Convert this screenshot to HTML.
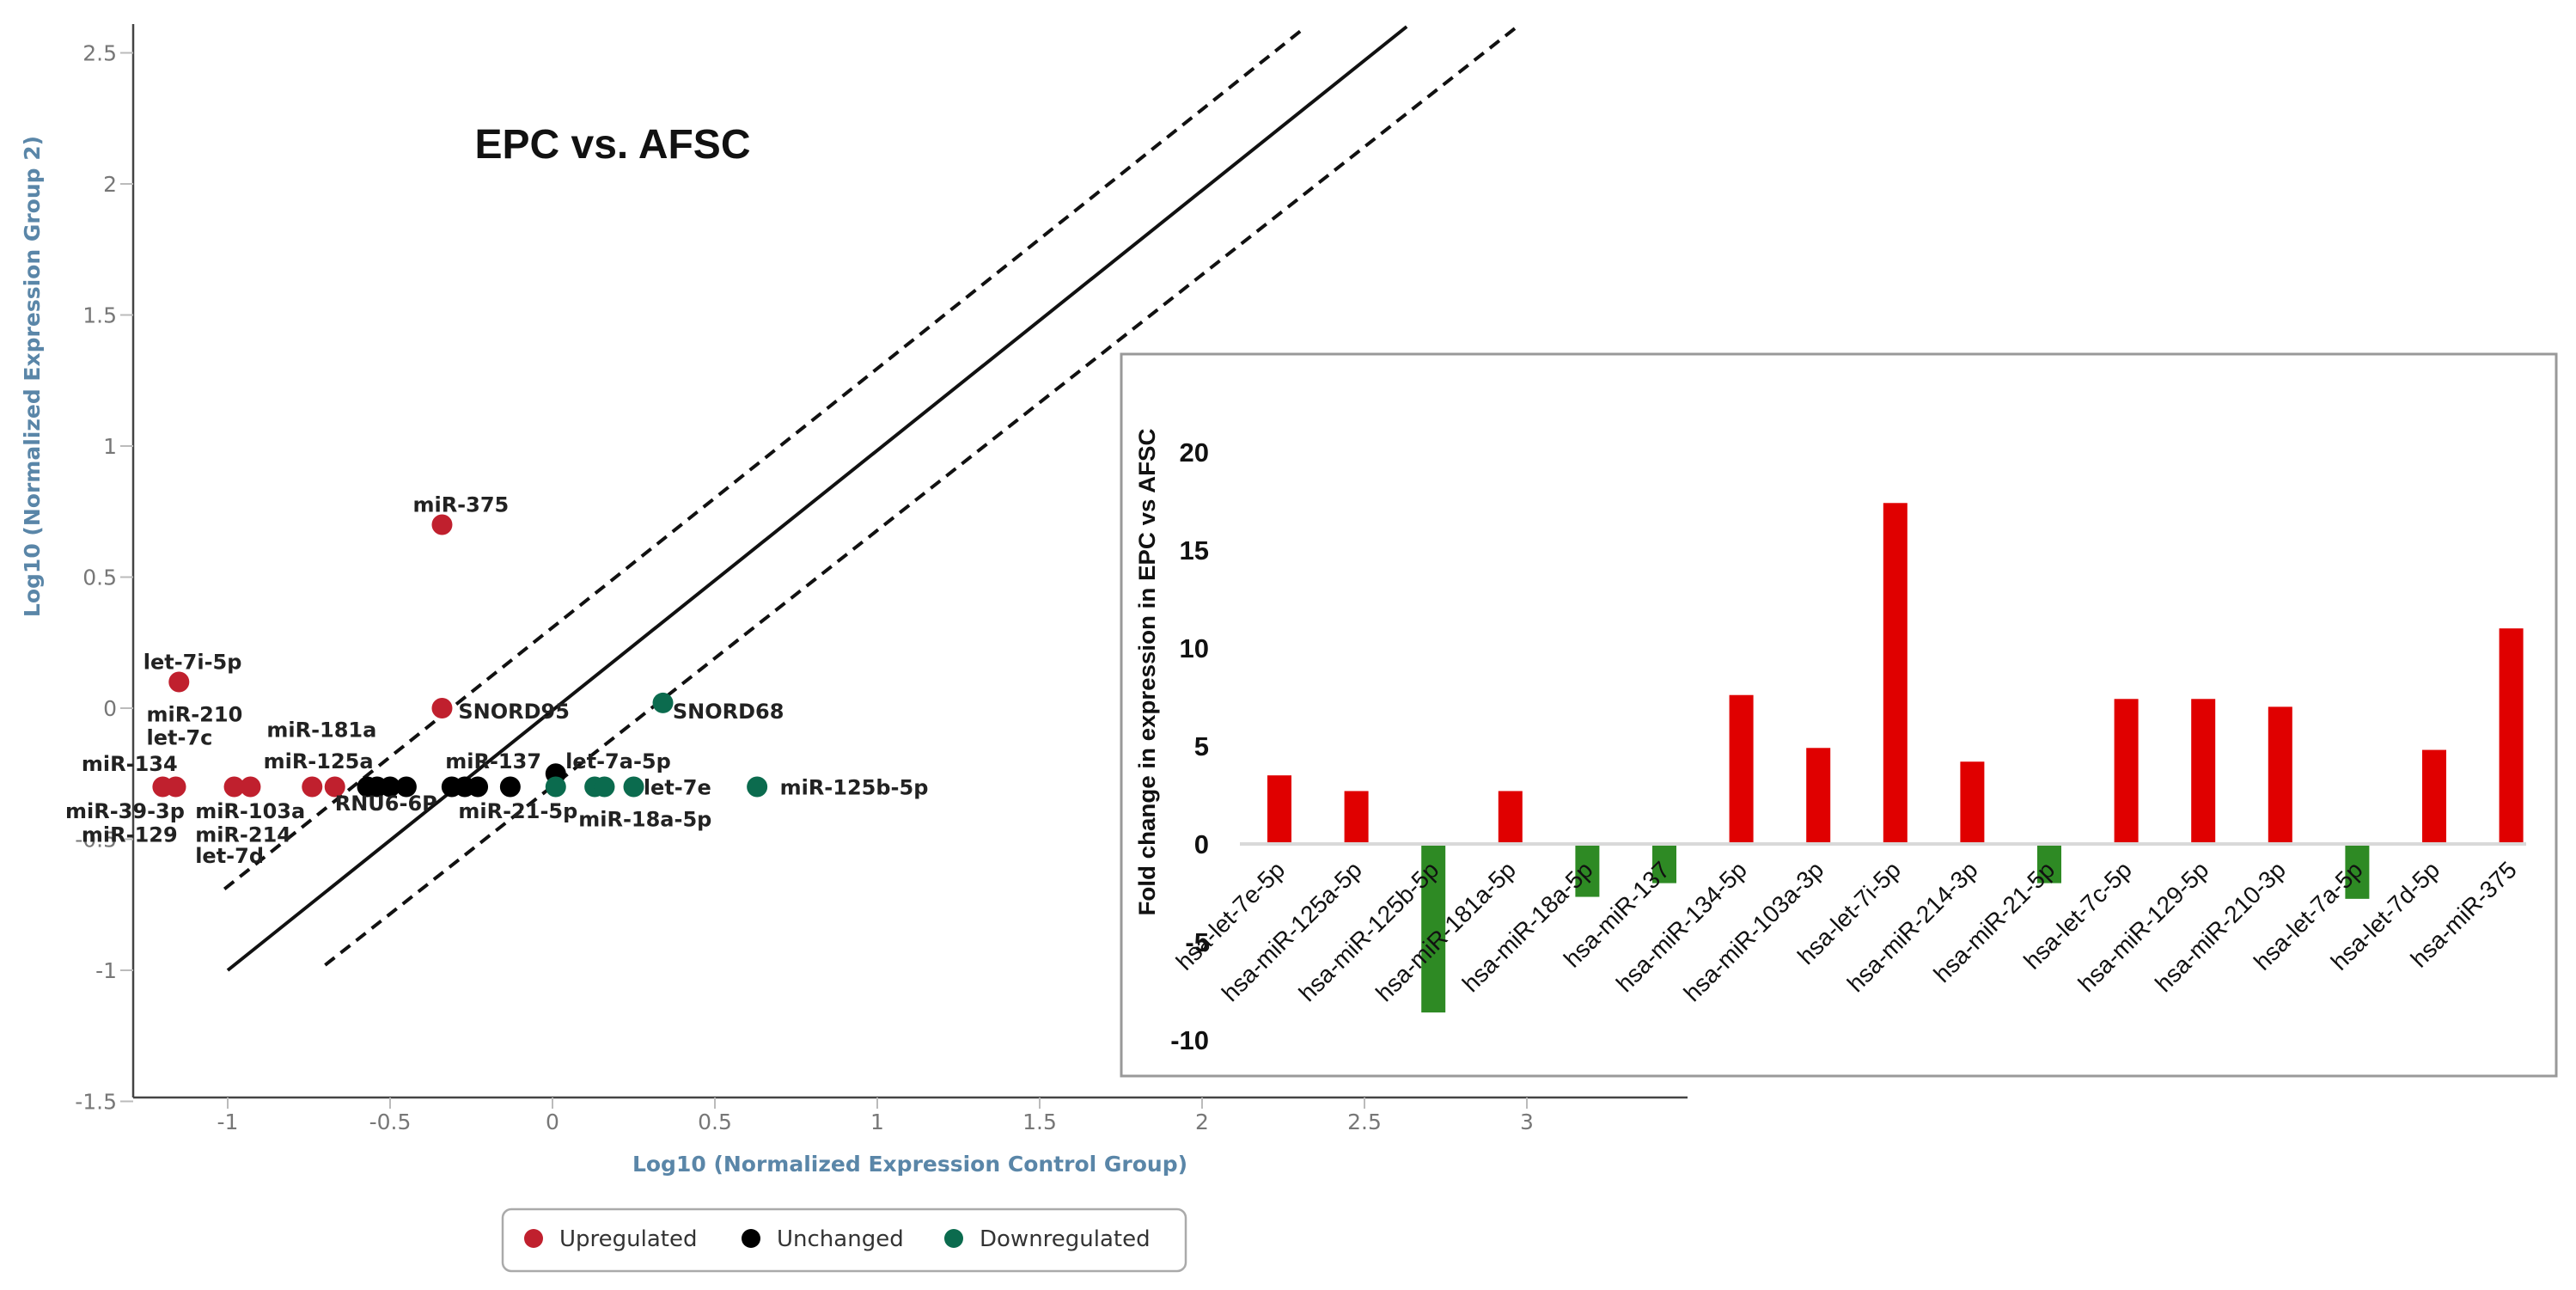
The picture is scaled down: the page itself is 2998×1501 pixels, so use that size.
<!DOCTYPE html>
<html><head><meta charset="utf-8"><style>
html,body{margin:0;padding:0;background:#fff;}
svg{display:block;}
text{font-family:"DejaVu Sans","Liberation Sans",sans-serif;}
</style></head><body>
<svg id="chart" width="2998" height="1501" viewBox="0 0 2998 1501" xmlns="http://www.w3.org/2000/svg">
<g id="scatter"></g>
<g id="inset"></g>
</svg>
<script>
// ---------- Scatter data ----------
const xTicks = [-1, -0.5, 0, 0.5, 1, 1.5, 2, 2.5, 3];
const xTickLabels = ["-1", "-0.5", "0", "0.5", "1", "1.5", "2", "2.5", "3"];
const yTicks = [-1.5, -1, -0.5, 0, 0.5, 1, 1.5, 2, 2.5];
const yTickLabels = ["-1.5", "-1", "-0.5", "0", "0.5", "1", "1.5", "2", "2.5"];
const ptX = [-1.20, -1.16, -0.98, -0.93, -0.74, -0.67, -1.15, -0.34, -0.34,
             -0.57, -0.54, -0.50, -0.45, -0.31, -0.27, -0.23, -0.13, 0.01,
             0.01, 0.13, 0.16, 0.25, 0.63, 0.34];
const ptY = [-0.3, -0.3, -0.3, -0.3, -0.3, -0.3, 0.10, 0.70, 0.0,
             -0.3, -0.3, -0.3, -0.3, -0.3, -0.3, -0.3, -0.3, -0.25,
             -0.3, -0.3, -0.3, -0.3, -0.3, 0.02];
const ptGroup = ["up","up","up","up","up","up","up","up","up",
                 "same","same","same","same","same","same","same","same","same",
                 "down","down","down","down","down","down"];
const labelText = ["let-7i-5p","miR-210","let-7c","miR-181a","miR-125a","miR-134","miR-137","let-7a-5p",
  "SNORD95","SNORD68","let-7e","miR-125b-5p","miR-39-3p","miR-129","miR-103a","miR-214","let-7d",
  "RNU6-6P","miR-21-5p","miR-18a-5p","miR-375"];
const labelX = [-1.26, -1.25, -1.25, -0.88, -0.89, -1.45, -0.33, 0.04, -0.29, 0.37, 0.28, 0.70,
  -1.50, -1.45, -1.10, -1.10, -1.10, -0.67, -0.29, 0.08, -0.43];
const labelY = [0.15, -0.05, -0.14, -0.11, -0.23, -0.24, -0.23, -0.23, -0.04, -0.04, -0.33, -0.33,
  -0.42, -0.51, -0.42, -0.51, -0.59, -0.39, -0.42, -0.45, 0.75];
// reference lines in data units [x1,y1,x2,y2]
const lineSolid = [-1, -1, 2.63, 2.6];
const lineUpper = [-1.01, -0.69, 2.32, 2.6];
const lineLower = [-0.70, -0.98, 2.97, 2.6];

// ---------- Inset bar data ----------
const barCats = ["hsa-let-7e-5p","hsa-miR-125a-5p","hsa-miR-125b-5p","hsa-miR-181a-5p","hsa-miR-18a-5p",
  "hsa-miR-137","hsa-miR-134-5p","hsa-miR-103a-3p","hsa-let-7i-5p","hsa-miR-214-3p","hsa-miR-21-5p",
  "hsa-let-7c-5p","hsa-miR-129-5p","hsa-miR-210-3p","hsa-let-7a-5p","hsa-let-7d-5p","hsa-miR-375"];
const barVals = [3.5, 2.7, -8.6, 2.7, -2.7, -2.0, 7.6, 4.9, 17.4, 4.2, -2.0, 7.4, 7.4, 7.0, -2.8, 4.8, 11.0];
const barTicks = [-10, -5, 0, 5, 10, 15, 20];
const barTickLabels = ["-10", "-5", "0", "5", "10", "15", "20"];

const NS = "http://www.w3.org/2000/svg";
function mk(parent, tag, attrs, txt) {
  const e = document.createElementNS(NS, tag);
  for (const k in attrs) e.setAttribute(k, attrs[k]);
  if (txt !== undefined) e.textContent = txt;
  parent.appendChild(e);
  return e;
}
// axis functions
const sx = v => 643 + v * 378;
const sy = v => 824 - v * 305;
const bx = i => 1489 + i * 89.6;
const by = v => 982 - v * 22.8;

const S = document.getElementById('scatter');
let ax = mk(S, 'line', {x1:155, y1:28, x2:155, y2:1277, stroke:'#444', 'stroke-width':2.5});


ax = mk(S, 'line', {x1:155, y1:1277, x2:1964, y2:1277, stroke:'#444', 'stroke-width':2.5});


yTicks.forEach((v, i) => {
  mk(S, 'line', {x1:140, y1:sy(v), x2:155, y2:sy(v), stroke:'#bbb', 'stroke-width':2});
  const t = mk(S, 'text', {x:136, y:sy(v)+9, 'text-anchor':'end', 'font-size':25, fill:'#777'}, yTickLabels[i]);
  
  
});
xTicks.forEach((v, i) => {
  mk(S, 'line', {x1:sx(v), y1:1277, x2:sx(v), y2:1290, stroke:'#bbb', 'stroke-width':2});
  const t = mk(S, 'text', {x:sx(v), y:1314, 'text-anchor':'middle', 'font-size':25, fill:'#777'}, xTickLabels[i]);
  
  
});
let tt = mk(S, 'text', {x:1059, y:1363, 'text-anchor':'middle', 'font-size':25, 'font-weight':'bold', fill:'#5a86a8'}, 'Log10 (Normalized Expression Control Group)');


tt = mk(S, 'text', {x:0, y:0, 'text-anchor':'middle', 'font-size':25, 'font-weight':'bold', fill:'#5a86a8', transform:'translate(46,438) rotate(-90)'}, 'Log10 (Normalized Expression Group 2)');


tt = mk(S, 'text', {x:713, y:184, 'text-anchor':'middle', 'font-size':48, 'font-weight':'bold', fill:'#111', style:'font-family:"Liberation Sans",sans-serif'}, 'EPC vs. AFSC');


[[lineSolid, null, 'identity-line'], [lineUpper, '14,9', 'upper-threshold-line'], [lineLower, '14,9', 'lower-threshold-line']].forEach(d => {
  const L = d[0];
  const a = {x1:sx(L[0]), y1:sy(L[1]), x2:sx(L[2]), y2:sy(L[3]), stroke:'#111', 'stroke-width':4};
  if (d[1]) a['stroke-dasharray'] = d[1];
  const e = mk(S, 'line', a);
  
  
});
const colors = {up:'#c0202e', same:'#000', down:'#0b6b4e'};
ptX.forEach((x, i) => {
  const c = mk(S, 'circle', {cx:sx(x), cy:sy(ptY[i]), r:12, fill:colors[ptGroup[i]]});
  
  
});
labelText.forEach((s, i) => {
  const t = mk(S, 'text', {x:sx(labelX[i]), y:sy(labelY[i]), 'font-size':24, 'font-weight':'bold', fill:'#222'}, s);
  
  
});
const lg = mk(S, 'g', {});


mk(lg, 'rect', {x:585, y:1407, width:795, height:72, rx:10, fill:'#fff', stroke:'#aaa', 'stroke-width':2.5});
[['#c0202e', 621, 'Upregulated', 'legend-upregulated'], ['#000', 874, 'Unchanged', 'legend-unchanged'], ['#0b6b4e', 1110, 'Downregulated', 'legend-downregulated']].forEach(d => {
  const g = mk(lg, 'g', {});
  
  
  mk(g, 'circle', {cx:d[1], cy:1441, r:11, fill:d[0]});
  mk(g, 'text', {x:d[1]+30, y:1450, 'font-size':26, fill:'#333'}, d[2]);
});

// ---------- Inset ----------
const I = document.getElementById('inset');
let box = mk(I, 'rect', {x:1305, y:412, width:1670, height:840, fill:'#fff', stroke:'#999', 'stroke-width':3});


barTicks.forEach((v, i) => {
  const t = mk(I, 'text', {x:1407, y:by(v)+11, 'text-anchor':'end', 'font-size':31, 'font-weight':'bold', fill:'#111', style:'font-family:"Liberation Sans Narrow","Liberation Sans",sans-serif'}, barTickLabels[i]);
  
  
});
tt = mk(I, 'text', {x:0, y:0, 'text-anchor':'middle', 'font-size':27, 'font-weight':'bold', fill:'#111', textLength:567, lengthAdjust:'spacingAndGlyphs', style:'font-family:"Liberation Sans",sans-serif', transform:'translate(1344,782) rotate(-90)'}, 'Fold change in expression in EPC vs AFSC');


barVals.forEach((v, i) => {
  const y0 = by(0), y1 = by(v);
  const r = mk(I, 'rect', {x:bx(i)-14, y:Math.min(y0, y1), width:28, height:Math.abs(y1-y0), fill: v >= 0 ? '#e00000' : '#2e8a24'});
  
  
});
let zl = mk(I, 'line', {x1:1443, y1:by(0), x2:2940, y2:by(0), stroke:'#d9d9d9', 'stroke-width':4});


barCats.forEach((s, i) => {
  const t = mk(I, 'text', {x:0, y:0, 'text-anchor':'end', 'font-size':28, fill:'#111', style:'font-family:"Liberation Sans",sans-serif', transform:'translate(' + (bx(i)+8) + ',1014) rotate(-45)'}, s);
  
  
});
</script>
</body></html>
